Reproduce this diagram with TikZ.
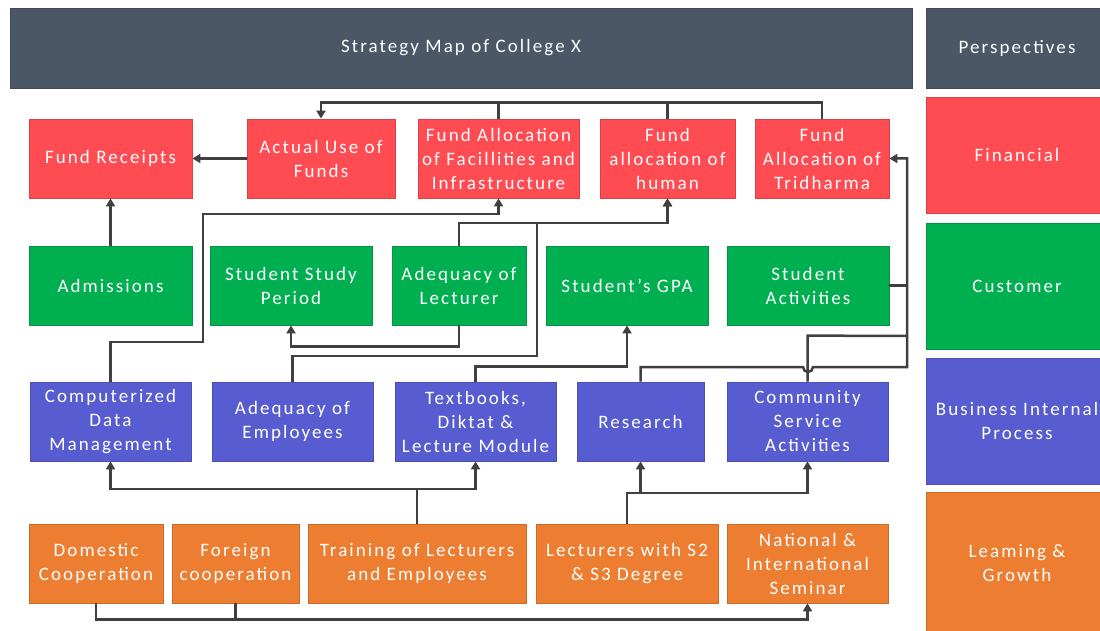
\documentclass[tikz,border=0pt]{standalone}
\usepackage{fontspec}
\setmainfont{Carlito}[LetterSpace=11]
\usetikzlibrary{arrows.meta}
\definecolor{slate}{RGB}{75,87,102}
\definecolor{fin}{RGB}{255,76,82}
\definecolor{cus}{RGB}{0,176,80}
\definecolor{bip}{RGB}{87,93,208}
\definecolor{lg}{RGB}{237,125,49}
\definecolor{ln}{RGB}{64,64,64}
\tikzset{
  box/.style={rectangle, fill=#1, draw=#1!85!black, line width=0.8pt, text=white,
    align=center, inner sep=2pt, minimum height=79pt,
    font=\fontsize{19}{24}\selectfont},
  conn/.style={draw=ln, line width=2.5pt},
  arr/.style={conn, -{Triangle[length=8pt,width=9pt]}},
}
\begin{document}
\begin{tikzpicture}[x=1pt,y=-1pt]
\useasboundingbox (0,0) rectangle (1100,631);
\fill[white] (0,0) rectangle (1100,631);
% header and perspectives
\node[box=slate, minimum width=902pt, minimum height=80pt] (title) at (461,48) {Strategy Map of College X};
\node[box=slate, minimum width=182pt, minimum height=80pt] (persp) at (1017,48) {Perspectives};
\node[box=fin, minimum width=182pt, minimum height=116pt] (pfin) at (1017,155) {Financial};
\node[box=cus, minimum width=182pt, minimum height=126pt] (pcus) at (1017,286) {Customer};
\node[box=bip, minimum width=182pt, minimum height=126pt] (pbip) at (1017,421) {Business Internal\\Process};
\node[box=lg, minimum width=182pt, minimum height=142pt] (plg) at (1017,563) {Leaming \&\\Growth};
% row 1 financial
\node[box=fin, minimum width=163pt] (fr) at (110.5,158.5) {Fund Receipts};
\node[box=fin, minimum width=148pt] (au) at (321,158.5) {Actual Use of\\Funds};
\node[box=fin, minimum width=161pt] (ff) at (498.5,158.5) {Fund Allocation\\of Facillities and\\Infrastructure};
\node[box=fin, minimum width=135pt] (fh) at (667.5,158.5) {Fund\\allocation of\\human};
\node[box=fin, minimum width=134pt] (ft) at (822,158.5) {Fund\\Allocation of\\Tridharma};
% row 2 customer
\node[box=cus, minimum width=163pt] (ad) at (110.5,285.5) {Admissions};
\node[box=cus, minimum width=162pt] (ss) at (291,285.5) {Student Study\\Period};
\node[box=cus, minimum width=134pt] (al) at (459,285.5) {Adequacy of\\Lecturer};
\node[box=cus, minimum width=162pt] (gpa) at (627,285.5) {Student's GPA};
\node[box=cus, minimum width=162pt] (sa) at (808,285.5) {Student\\Activities};
% row 3 internal process
\node[box=bip, minimum width=161pt] (cd) at (110.5,421.5) {Computerized\\Data\\Management};
\node[box=bip, minimum width=161pt] (ae) at (292.5,421.5) {Adequacy of\\Employees};
\node[box=bip, minimum width=161pt] (tb) at (475.5,421.5) {Textbooks,\\Diktat \&\\Lecture Module};
\node[box=bip, minimum width=127pt] (rs) at (640.5,421.5) {Research};
\node[box=bip, minimum width=161pt] (cs) at (807.5,421.5) {Community\\Service\\Activities};
% row 4 learning & growth
\node[box=lg, minimum width=134pt] (dc) at (96,563.5) {Domestic\\Cooperation};
\node[box=lg, minimum width=127pt] (fc) at (235.5,563.5) {Foreign\\cooperation};
\node[box=lg, minimum width=218pt] (tl) at (417,563.5) {Training of Lecturers\\and Employees};
\node[box=lg, minimum width=182pt] (lw) at (627,563.5) {Lecturers with S2\\\& S3 Degree};
\node[box=lg, minimum width=161pt] (ns) at (807.5,563.5) {National \&\\International\\Seminar};
% connectors: financial row
\draw[arr] (ft.north) -- ++(0,-16) -| (au.north);
\draw[conn] (ff.north) -- ++(0,-16);
\draw[conn] (fh.north) -- ++(0,-16);
\draw[arr] (au.west) -- (fr.east);
\draw[arr] (ad.north) -- (fr.south);
% customer / process to financial
\draw[arr] (cd.north) -- (cd.north |- 0,342) -- (203,342) -- (203,214) -| (ff.south);
\draw[arr] (al.north) -- (al.north |- 0,223) -| (fh.south);
\draw[arr] (ae.north) -- (ae.north |- 0,356) -- (537,356) -- (537,223) -| (fh.south);
\draw[arr] (al.south) -- ++(0,21) -| (ss.south);
\draw[arr] (tb.north) -- ++(0,-15) -| (gpa.south);
\coordinate (rj) at (907,367);
\draw[arr] (rs.north) -- (rs.north |- rj) -- (803,367) arc[start angle=180,end angle=0,radius=5] -- (rj) |- (ft.east);
\draw[conn] (sa.east) -- (sa.east -| rj);
\draw[conn] (cs.north) -- ++(0,-46) -- (907,336);
% learning to process
\coordinate (tj) at (417,489);
\draw[arr] (tl.north) -- (tj) -| (cd.south);
\draw[arr] (tj) -| (tb.south);
\coordinate (lj) at (627,493);
\draw[arr] (lw.north) -- (lj) -| (rs.south);
\draw[arr] (lj) -| (cs.south);
\draw[arr] (dc.south) -- ++(0,16) -| (ns.south);
\draw[conn] (fc.south) -- ++(0,16);
\end{tikzpicture}
\end{document}
